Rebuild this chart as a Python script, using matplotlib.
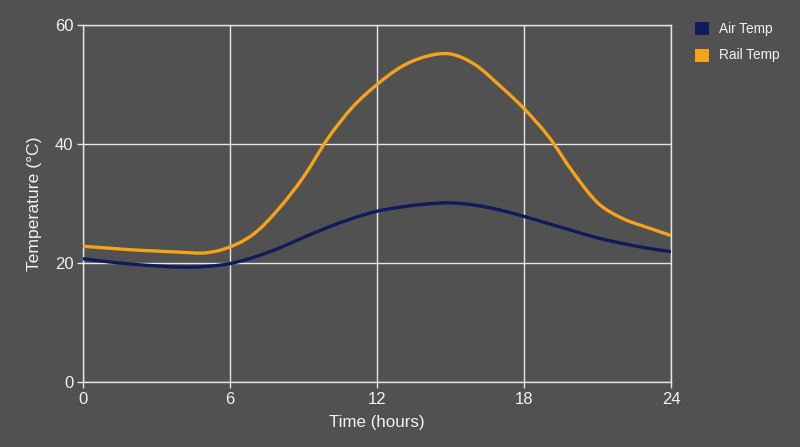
import matplotlib
matplotlib.use("Agg")
import matplotlib.pyplot as plt
from matplotlib.patches import Rectangle, PathPatch
from matplotlib.path import Path

hours = list(range(25))
air_temp = [20.7, 20.2, 19.8, 19.5, 19.3, 19.4, 19.9, 21.0, 22.5, 24.3, 26.0, 27.5, 28.7,
            29.4, 29.9, 30.1, 29.7, 28.9, 27.8, 26.6, 25.4, 24.2, 23.3, 22.5, 21.9]
rail_temp = [22.8, 22.5, 22.2, 22.0, 21.8, 21.7, 22.7, 25.0, 29.2, 34.5, 41.0, 46.2, 50.0,
             53.0, 54.7, 55.1, 53.3, 49.8, 45.9, 41.2, 35.2, 30.1, 27.5, 26.0, 24.6]
x_ticks = [0, 6, 12, 18, 24]
y_ticks = [0, 20, 40, 60]
series_names = ["Air Temp", "Rail Temp"]

BG = "#515151"
TXT = "#f2f2f2"
GRID = "#e6e6e6"
NAVY = "#111a5a"
ORANGE = "#f5a31a"

plt.rcParams['font.family'] = ['Liberation Sans', 'DejaVu Sans']


def smooth_path(xs, ys):
    """Smooth rendering of the polyline through the given points (Catmull-Rom as Bezier)."""
    n = len(xs)
    verts = [(xs[0], ys[0])]
    codes = [Path.MOVETO]
    for i in range(n - 1):
        x0, y0 = (xs[i - 1], ys[i - 1]) if i > 0 else (xs[i], ys[i])
        x1, y1 = xs[i], ys[i]
        x2, y2 = xs[i + 1], ys[i + 1]
        x3, y3 = (xs[i + 2], ys[i + 2]) if i + 2 < n else (xs[i + 1], ys[i + 1])
        c1 = (x1 + (x2 - x0) / 6, y1 + (y2 - y0) / 6)
        c2 = (x2 - (x3 - x1) / 6, y2 - (y3 - y1) / 6)
        verts += [c1, c2, (x2, y2)]
        codes += [Path.CURVE4] * 3
    return Path(verts, codes)


fig = plt.figure(figsize=(8, 4.47), dpi=100, facecolor=BG)
ax = fig.add_axes([0.104, 0.1454, 0.735, 0.799])
ax.set_facecolor(BG)

for ys, col, z in [(air_temp, NAVY, 3), (rail_temp, ORANGE, 4)]:
    ax.add_patch(PathPatch(smooth_path(hours, ys), facecolor='none', edgecolor=col,
                           lw=2.4, capstyle='round', joinstyle='round', zorder=z,
                           transform=ax.transData))

ax.set_xlim(0, 24)
ax.set_ylim(0, 60)
ax.set_xticks(x_ticks)
ax.set_yticks(y_ticks)
ax.grid(True, color=GRID, lw=1.0, zorder=1)
for s in ax.spines.values():
    s.set_visible(True)
    s.set_color(GRID)
    s.set_linewidth(1.0)
ax.tick_params(colors=GRID, labelcolor=TXT, labelsize=12, length=4, width=1.0, pad=3)

ax.set_xlabel("Time (hours)", color=TXT, fontsize=12.2, labelpad=6)
ax.set_ylabel("Temperature (°C)", color=TXT, fontsize=12.6, labelpad=9)

# legend
W, H = 800, 447
for i, (name, col) in enumerate(zip(series_names, [NAVY, ORANGE])):
    y_top = 22 + i * 26.5
    fig.patches.append(Rectangle((695 / W, 1 - (y_top + 13) / H), 14 / W, 13 / H,
                                 transform=fig.transFigure, facecolor=col, edgecolor='none'))
    fig.text(719 / W, 1 - (y_top + 6.5) / H, name, color=TXT, fontsize=9.8,
             va='center', ha='left')

fig.savefig("out.png", dpi=100, facecolor=BG)
